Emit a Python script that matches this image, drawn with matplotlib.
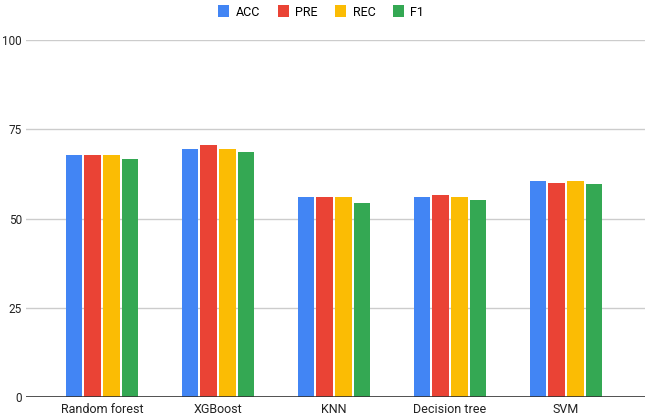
import matplotlib
matplotlib.use("Agg")
import matplotlib.pyplot as plt
import numpy as np

categories = ["Random forest", "XGBoost", "KNN", "Decision tree", "SVM"]
series_names = ["ACC", "PRE", "REC", "F1"]
acc = [67.8, 69.5, 56.1, 56.1, 60.4]
pre = [67.8, 70.6, 56.1, 56.5, 59.9]
rec = [67.8, 69.5, 56.1, 56.1, 60.4]
f1 = [66.7, 68.5, 54.3, 55.1, 59.6]
yticks = [0, 25, 50, 75, 100]
colors = ["#4285F4", "#EA4335", "#FBBC04", "#34A853"]

plt.rcParams['font.family'] = ['Roboto', 'DejaVu Sans']

W, H = 645, 416
fig = plt.figure(figsize=(W / 100, H / 100), dpi=100)
ax = fig.add_axes([26 / W, 19 / H, 619 / W, 357 / H])

x = np.arange(len(categories))
pitch = 0.161
bw = 0.144
data = [acc, pre, rec, f1]
handles = []
for i, (name, vals, c) in enumerate(zip(series_names, data, colors)):
    off = (i - 1.5) * pitch
    b = ax.bar(x + off, vals, width=bw, color=c, label=name, zorder=3)
    handles.append(b)

ax.set_xlim((26 - 102) / 116, (645 - 102) / 116)
ax.set_ylim(0, 100)
ax.set_yticks(yticks)
ax.set_yticklabels([str(v) for v in yticks])
for v in yticks[1:]:
    ax.axhline(v, color="#cccccc", lw=1, zorder=1)
ax.axhline(0, color="#333333", lw=1.2, zorder=4)
for s in ax.spines.values():
    s.set_visible(False)
ax.set_xticks(x)
ax.set_xticklabels(categories)
ax.tick_params(axis='both', length=0, colors="#222222")
ax.tick_params(axis='y', pad=3, labelsize=8.5)
ax.tick_params(axis='x', pad=4, labelsize=9)

fig.legend(handles=handles, labels=series_names, loc="center", bbox_to_anchor=(0.498, 1 - 12 / H),
           ncol=4, frameon=False, fontsize=9, handlelength=0.9, handleheight=1.1,
           handletextpad=0.5, columnspacing=1.4)

fig.savefig("out.png", dpi=100)
